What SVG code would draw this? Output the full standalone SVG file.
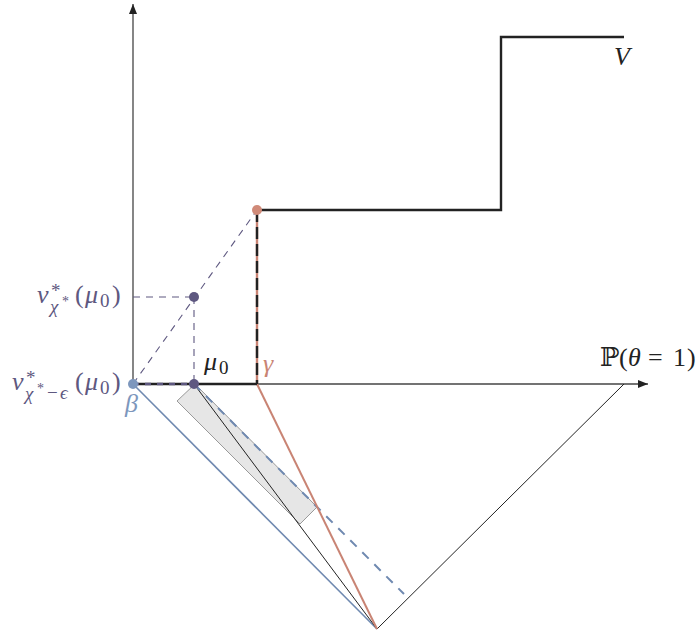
<svg xmlns="http://www.w3.org/2000/svg" width="698" height="634" viewBox="0 0 698 634">
<style>
.ax{stroke:#444;stroke-width:1.3;fill:none}
.vf{stroke:#222;stroke-width:2.4;fill:none}
.thin{stroke:#222;stroke-width:1;fill:none}
.pd{stroke:#5e5880;stroke-width:1.1;stroke-dasharray:7,6;fill:none}
.blue{stroke:#6f89b0;stroke-width:1.6;fill:none}
.bd{stroke:#6f89b0;stroke-width:2;stroke-dasharray:9,8;fill:none}
.red{stroke:#c98474;stroke-width:2;fill:none}
.t{font-family:"Liberation Serif","DejaVu Serif",serif;font-size:26px}
.it{font-style:italic}
.pu{fill:#5e5880}
.sb{font-size:19px}
.ss{font-size:14px}
</style>
<defs>
<marker id="ah" viewBox="0 0 10 8" refX="10" refY="4" markerWidth="10" markerHeight="8" markerUnits="userSpaceOnUse" orient="auto">
<path d="M0,0 L10,4 L0,8 Z" fill="#222"/>
</marker>
</defs>
<g id="shade">
<polygon points="177,401 195,384 317,507 300,524" fill="#e6e6e6" stroke="#999" stroke-width="1"/>
</g>
<g id="connectors">
<line class="ax" x1="133" y1="384" x2="133" y2="4" marker-end="url(#ah)"/>
<line class="ax" x1="133" y1="384" x2="648" y2="384" marker-end="url(#ah)"/>
<line class="blue" x1="133" y1="384" x2="377" y2="629"/>
<line class="thin" x1="194" y1="384" x2="377" y2="629"/>
<line class="thin" x1="377" y1="629" x2="624" y2="384"/>
<line class="bd" x1="194" y1="384" x2="404" y2="594"/>
<line class="red" x1="257" y1="384" x2="377" y2="629"/>
<line class="pd" x1="133" y1="384" x2="257" y2="210"/>
<line class="pd" x1="133" y1="297" x2="194" y2="297"/>
<line class="pd" x1="194" y1="297" x2="194" y2="384"/>
</g>
<g id="V">
<line x1="257" y1="210" x2="257" y2="384" stroke="#c98474" stroke-width="2.4"/>
<line class="vf" x1="133" y1="384" x2="257" y2="384"/>
<line x1="257" y1="210" x2="257" y2="384" stroke="#222" stroke-width="2.4" stroke-dasharray="12,5"/>
<polyline class="vf" points="257,210 501,210 501,37 624,37"/>
<line x1="133" y1="384" x2="194" y2="384" stroke="#5e5880" stroke-width="2.4" stroke-dasharray="6,6"/>
<text class="t it" x="614" y="65" fill="#222">V</text>
</g>
<g id="beta">
<circle cx="133" cy="384" r="5" fill="#7d97bd"/>
<text class="t it" x="125" y="412" fill="#7d97bd">β</text>
</g>
<g id="mu0">
<circle cx="194" cy="384" r="5" fill="#5e5880"/>
<text class="t it" fill="#222"><tspan x="204" y="370">μ</tspan><tspan class="sb" font-style="normal" x="219" y="374">0</tspan></text>
</g>
<g id="vstar">
<circle cx="194" cy="297" r="5" fill="#5e5880"/>
<text class="t pu"><tspan class="it" x="37" y="303">v</tspan><tspan class="sb" x="51" y="297">*</tspan><tspan class="it sb" x="50" y="313">χ</tspan><tspan class="ss" x="62" y="306">*</tspan><tspan x="75" y="303">(</tspan><tspan class="it" x="85" y="303">μ</tspan><tspan class="sb" x="100" y="307">0</tspan><tspan x="112" y="303">)</tspan></text>
<text class="t pu"><tspan class="it" x="12" y="390">v</tspan><tspan class="sb" x="26" y="384">*</tspan><tspan class="it sb" x="25" y="400">χ</tspan><tspan class="ss" x="37" y="393">*</tspan><tspan class="sb" x="47" y="399">−</tspan><tspan class="it sb" x="60" y="399">ϵ</tspan><tspan x="75" y="390">(</tspan><tspan class="it" x="85" y="390">μ</tspan><tspan class="sb" x="100" y="394">0</tspan><tspan x="112" y="390">)</tspan></text>
</g>
<g id="gamma">
<circle cx="257" cy="210" r="5" fill="#d08a78"/>
<text class="t it" x="263" y="372" fill="#c98474">γ</text>
</g>
<g id="xlabel">
<text class="t" fill="#222"><tspan x="600" y="366">ℙ</tspan><tspan x="619" y="366">(</tspan><tspan class="it" x="628" y="366">θ</tspan><tspan x="648" y="366">=</tspan><tspan x="673" y="366">1</tspan><tspan x="687" y="366">)</tspan></text>
</g>
</svg>
